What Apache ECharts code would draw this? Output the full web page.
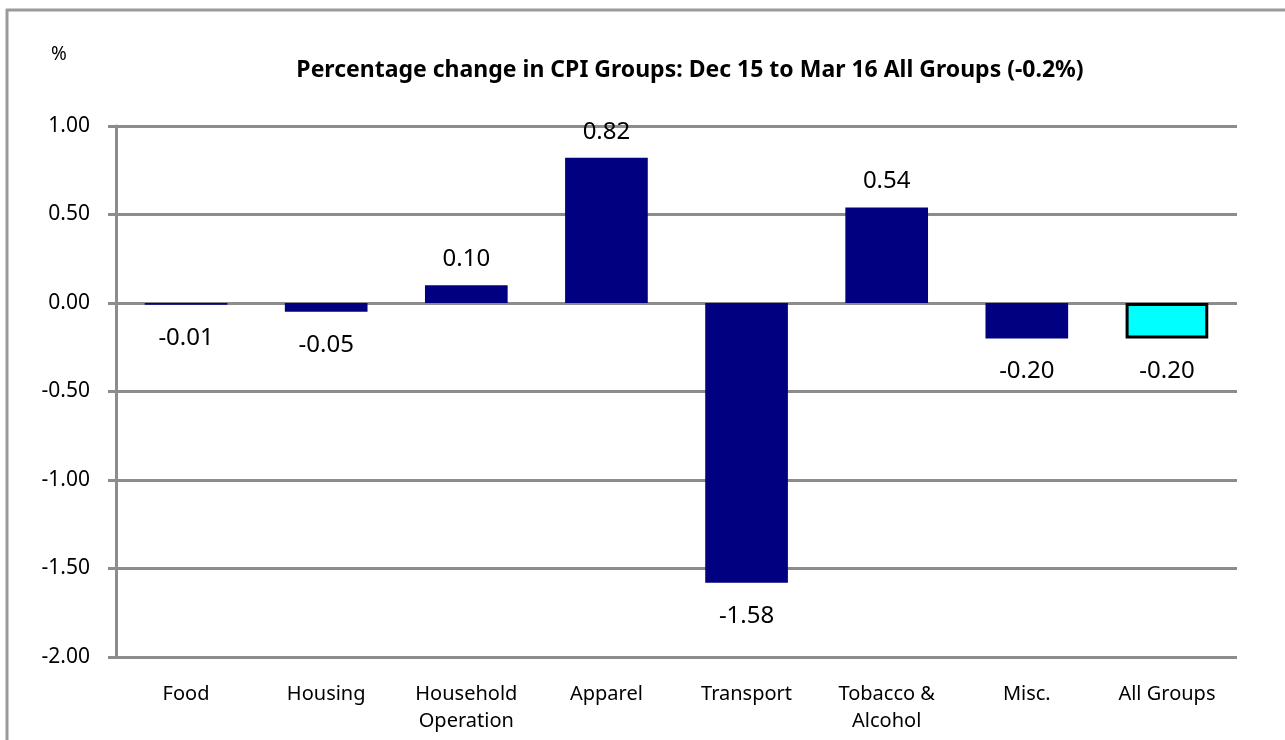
<!DOCTYPE html>
<html>
<head>
<meta charset="utf-8">
<script src="https://cdn.jsdelivr.net/npm/echarts@6/dist/echarts.min.js"></script>
<style>
html,body{margin:0;padding:0;background:#fff;}
#chart{width:1285px;height:740px;}
</style>
</head>
<body>
<div id="chart"></div>
<script>
var categories = ['Food', 'Housing', 'Household\nOperation', 'Apparel', 'Transport', 'Tobacco &\nAlcohol', 'Misc.', 'All Groups'];
var values = [-0.01, -0.05, 0.10, 0.82, -1.58, 0.54, -0.20, -0.20];
var yTicks = { min: -2, max: 1, interval: 0.5 };
var titleText = 'Percentage change in CPI Groups: Dec 15 to Mar 16 All Groups (-0.2%)';
var unitText = '%';

var FONT = '"Noto Sans", "Open Sans", sans-serif';
var chart = echarts.init(document.getElementById('chart'));

var seriesData = values.map(function (v, i) {
  var item = {
    value: v,
    label: v < 0 ? { position: 'bottom', distance: 21 } : { position: 'top', distance: 14 }
  };
  if (i === values.length - 1) {
    item.itemStyle = { color: '#00ffff', borderColor: '#000000', borderWidth: 3 };
  }
  return item;
});

chart.setOption({
  animation: false,
  backgroundColor: '#ffffff',
  graphic: [
    { type: 'line', shape: { x1: 7, y1: 9, x2: 7, y2: 740 }, style: { stroke: '#9a9a9a', lineWidth: 3 } },
    { type: 'line', shape: { x1: 6, y1: 10, x2: 1285, y2: 10 }, style: { stroke: '#9a9a9a', lineWidth: 3 } }
  ],
  title: [{
    text: titleText,
    left: 685, textAlign: 'center', top: 54,
    textStyle: { fontFamily: FONT, fontSize: 23, fontWeight: 'bold', color: '#000' }
  }, {
    text: unitText,
    left: 46, top: 40,
    textStyle: { fontFamily: FONT, fontSize: 19, fontWeight: 'normal', color: '#000' }
  }],
  grid: { left: 116, right: 48, top: 126, bottom: 83, containLabel: false },
  xAxis: {
    type: 'category',
    data: categories,
    axisLine: { show: false },
    axisTick: { show: false },
    axisLabel: {
      interval: 0, margin: 24, color: '#000',
      fontFamily: FONT, fontSize: 20, lineHeight: 27,
      verticalAlign: 'top'
    },
    splitLine: { show: false }
  },
  yAxis: {
    type: 'value',
    min: yTicks.min, max: yTicks.max, interval: yTicks.interval,
    axisLine: { show: true, lineStyle: { color: '#8c8c8c', width: 3 } },
    axisTick: { show: true, length: 8, lineStyle: { color: '#8c8c8c', width: 3 } },
    axisLabel: {
      margin: 26, color: '#000', fontFamily: FONT, fontSize: 21,
      formatter: function (v) { return v.toFixed(2); }
    },
    splitLine: { show: true, lineStyle: { color: '#8c8c8c', width: 3 } }
  },
  series: [{
    type: 'bar',
    data: seriesData,
    barWidth: '59%',
    itemStyle: { color: '#000080' },
    label: {
      show: true,
      color: '#000', fontFamily: FONT, fontSize: 24,
      formatter: function (p) { return p.value.toFixed(2); }
    }
  }]
});
</script>
</body>
</html>
